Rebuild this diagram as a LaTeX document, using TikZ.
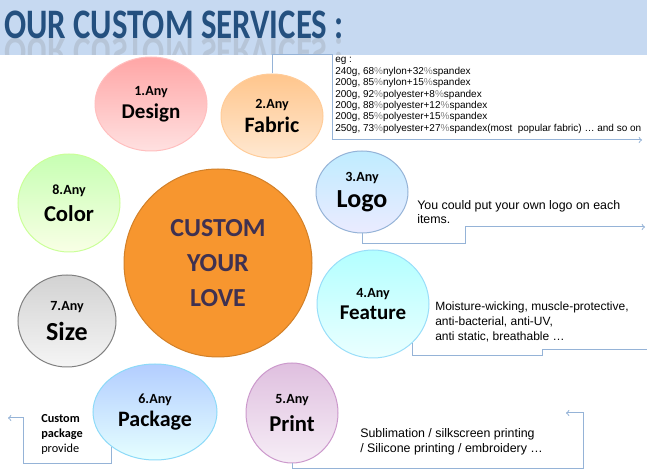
\documentclass[tikz,border=0pt]{standalone}
\usepackage{fontspec}
\usepackage{graphicx}
\setmainfont{Liberation Sans}
\newfontfamily\calib{Carlito}
\usetikzlibrary{shapes.geometric}

\definecolor{barblue}{HTML}{C6D9F1}
\definecolor{titleblue}{HTML}{24507F}
\definecolor{linkblue}{HTML}{95B3D7}
\definecolor{lovetext}{HTML}{3F3151}
\definecolor{loveorange}{HTML}{F7962F}

\newcommand\anyfont{\calib\bfseries\fontsize{10.5}{12}\selectfont}
\newcommand\wordfont[2]{\calib\bfseries\fontsize{#1}{#2}\selectfont}
\newcommand\pct{\textcolor{gray}{\%}}

\begin{document}
\begin{tikzpicture}[x=0.75pt,y=-0.75pt,
  bubble/.style={ellipse,inner sep=0pt,line width=0.75pt,align=center},
  link/.style={draw=linkblue,line width=0.75pt},
  note/.style={anchor=base west,inner sep=0pt,align=left}]
\useasboundingbox (0,0) rectangle (647,473);

\fill[barblue] (0,0) rectangle (647,55);
\node[anchor=base west,inner sep=0pt,text=titleblue] (title) at (4,39)
  {\scalebox{0.78}[1]{\wordfont{31.5}{32}OUR CUSTOM SERVICES :}};
\begin{scope}
\clip (0,39) rectangle (647,55);
\node[anchor=base west,inner sep=0pt,yscale=-1,transform shape,text=gray,opacity=0.22] (mirror) at (4,39)
  {\scalebox{0.78}[1]{\wordfont{31.5}{32}OUR CUSTOM SERVICES :}};
\end{scope}

\coordinate (fabricend) at (642,140);
\coordinate (logoend) at (645,227);
\coordinate (featureend) at (647,350);
\coordinate (printend) at (566,413);
\coordinate (packend) at (8,418);

\node[bubble,draw=loveorange!85!black,fill=loveorange,text=lovetext,font={\wordfont{19.5}{26}},minimum size=141pt] (love) at (218,263)
  {CUSTOM\\YOUR\\LOVE};
\node[bubble,draw=red!25,top color=red!35,bottom color=red!12,font={\wordfont{15.75}{17}},minimum width=84pt,minimum height=70.5pt] (design) at (151,104)
  {{\anyfont 1.Any}\\Design};
\node[bubble,draw=orange!40,top color=orange!45,bottom color=orange!18,font={\wordfont{16.5}{17.5}},minimum width=76.5pt,minimum height=63pt] (fabric) at (272,116)
  {{\anyfont 2.Any}\\Fabric};
\node[bubble,draw=green!35!lime!40,top color=lime!35!green!30,bottom color=lime!10,font={\wordfont{17}{20}},minimum width=76.5pt,minimum height=73.5pt] (color) at (69,203)
  {{\anyfont 8.Any}\\Color};
\node[bubble,draw=gray,top color=gray!35,bottom color=gray!8,font={\wordfont{19.5}{23}},minimum width=73.5pt,minimum height=69pt] (size) at (67,321)
  {{\anyfont 7.Any}\\Size};
\node[bubble,draw=linkblue,top color=blue!30!cyan!25,bottom color=blue!8,font={\wordfont{19.5}{20}},minimum width=69pt,minimum height=61.5pt] (logo) at (362,192)
  {{\anyfont 3.Any}\\Logo};
\node[bubble,draw=cyan!40,top color=cyan!30,bottom color=cyan!8,font={\wordfont{15.75}{17}},minimum width=84pt,minimum height=81pt] (feature) at (373,304)
  {{\anyfont 4.Any}\\Feature};
\node[bubble,draw=cyan!45,top color=cyan!35!blue!30,bottom color=cyan!10,font={\wordfont{16.5}{17}},minimum width=93pt,minimum height=72pt] (package) at (155,412)
  {{\anyfont 6.Any}\\Package};
\node[bubble,draw=violet!40,top color=violet!25,bottom color=violet!7,font={\wordfont{17}{21}},minimum width=69pt,minimum height=75pt] (print) at (292,413)
  {{\anyfont 5.Any}\\Print};

\draw[link,->] (fabric.north) |- (332,55) |- (fabricend);
\draw[link,->] (logo.south) |- (465,244) |- (logoend);
\draw[link] (feature.-45) |- (542,356) |- (featureend);
\draw[link,->] (print.south) |- (583,469) |- (printend);
\draw[link,->] (package.-141) |- (23,464) |- (packend);

\node[note,font=\fontsize{7.5}{8.55}\selectfont] (fabricnote) at (335,131.4)
  {eg :\\240g, 68\pct nylon+32\pct spandex\\200g, 85\pct nylon+15\pct spandex\\
   200g, 92\pct polyester+8\pct spandex\\200g, 88\pct polyester+12\pct spandex\\
   200g, 85\pct polyester+15\pct spandex\\
   250g, 73\pct polyester+27\pct spandex(most\ \ popular fabric) … and so on};
\node[note,font=\fontsize{9.3}{10.5}\selectfont] (logonote) at (417,224)
  {You could put your own logo on each\\items.};
\node[note,font=\fontsize{9}{11.25}\selectfont] (featurenote) at (435,341)
  {Moisture-wicking, muscle-protective,\\anti-bacterial, anti-UV,\\anti static, breathable …};
\node[note,font=\fontsize{9.3}{11.25}\selectfont] (printnote) at (360,453)
  {Sublimation / silkscreen printing\\/ Silicone printing / embroidery …};
\node[note,font=\calib\fontsize{9.2}{11.25}\selectfont] (packnote) at (41,453)
  {\bfseries Custom\\\bfseries package\\provide};
\end{tikzpicture}
\end{document}
